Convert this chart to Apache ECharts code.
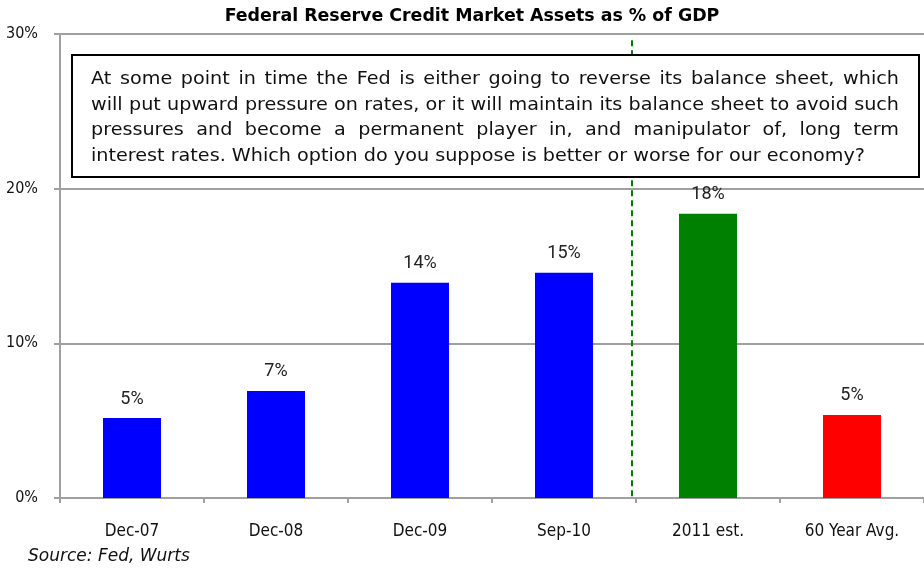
<!DOCTYPE html>
<html>
<head>
<meta charset="utf-8">
<script src="https://cdn.jsdelivr.net/npm/echarts@6/dist/echarts.min.js"></script>
<style>
  html, body { margin: 0; padding: 0; background: #fff; }
  #chart { width: 924px; height: 570px; }
</style>
</head>
<body>
<div id="chart"></div>
<script>
// Fed credit market assets as a share of GDP
const categories = ['Dec-07', 'Dec-08', 'Dec-09', 'Sep-10', '2011 est.', '60 Year Avg.'];
const assetsPctGdp = [5.17, 6.92, 13.92, 14.57, 18.38, 5.37];
const barColors = ['#0000ff', '#0000ff', '#0000ff', '#0000ff', '#008000', '#ff0000'];
const yTicks = [0, 10, 20, 30];
// Actual vs. estimate separator, on a 0..6 period scale
const forecastDivider = 3.97;

const titleText = 'Federal Reserve Credit Market Assets as % of GDP';
const sourceText = 'Source: Fed, Wurts';
const noteLines = [
  'At some point in time the Fed is either going to reverse its balance sheet, which',
  'will put upward pressure on rates, or it will maintain its balance sheet to avoid such',
  'pressures and become a permanent player in, and manipulator of, long term',
  'interest rates. Which option do you suppose is better or worse for our economy?'
];

const AXIS_FONT = '"DejaVu Sans Condensed", "DejaVu Sans", sans-serif';
const TEXT_FONT = '"DejaVu Sans", sans-serif';
const LABEL_FONT = 'Roboto, "Liberation Sans", sans-serif';
const GRID_GRAY = '#a0a0a0';

// Justified paragraph: every line but the last is stretched to the full width,
// glyphs widened slightly so the last (ragged) line reaches lastWidth
function justifiedNote(x0, x1, yFirst, lineH, size, lastWidth) {
  const font = size + 'px ' + TEXT_FONT;
  const ctx = document.createElement('canvas').getContext('2d');
  ctx.font = font;
  const sx = lastWidth / ctx.measureText(noteLines[noteLines.length - 1]).width;
  const out = [];
  noteLines.forEach((line, i) => {
    const y = yFirst + i * lineH;
    const style = { fill: '#111', font: font, textVerticalAlign: 'middle', textAlign: 'left' };
    if (i === noteLines.length - 1) {
      out.push({ type: 'text', x: x0, y: y, scaleX: sx, z: 101, style: Object.assign({ text: line }, style) });
      return;
    }
    const words = line.split(' ');
    const widths = words.map(w => ctx.measureText(w).width * sx);
    const total = widths.reduce((a, b) => a + b, 0);
    const gap = (x1 - x0 - total) / (words.length - 1);
    let x = x0;
    words.forEach((w, k) => {
      out.push({ type: 'text', x: x, y: y, scaleX: sx, z: 101, style: Object.assign({ text: w }, style) });
      x += widths[k] + gap;
    });
  });
  return out;
}

const chart = echarts.init(document.getElementById('chart'), null, { renderer: 'canvas' });

const option = {
  animation: false,
  backgroundColor: '#fff',
  grid: { left: 60, right: -2, top: 34, bottom: 72 },
  xAxis: [
    {
      type: 'category',
      data: categories,
      axisLine: { lineStyle: { color: GRID_GRAY, width: 2 } },
      axisTick: { show: true, length: 5, lineStyle: { color: GRID_GRAY, width: 2 } },
      axisLabel: { fontSize: 17, color: '#111', margin: 25, fontFamily: AXIS_FONT },
      splitLine: { show: false }
    },
    { type: 'value', min: 0, max: 6, show: false }
  ],
  yAxis: {
    type: 'value',
    min: yTicks[0],
    max: yTicks[yTicks.length - 1],
    interval: yTicks[1] - yTicks[0],
    axisLine: { show: true, lineStyle: { color: GRID_GRAY, width: 2 } },
    axisTick: { show: true, length: 6, lineStyle: { color: GRID_GRAY, width: 2 } },
    axisLabel: { formatter: '{value}%', fontSize: 16, color: '#111', margin: 22, fontFamily: AXIS_FONT },
    splitLine: { show: true, lineStyle: { color: GRID_GRAY, width: 2 } }
  },
  series: [
    {
      type: 'bar',
      barWidth: 58,
      data: assetsPctGdp.map((v, i) => ({ value: v, itemStyle: { color: barColors[i] } })),
      label: {
        show: true,
        position: 'top',
        distance: 10,
        formatter: p => Math.round(p.value) + '%',
        fontSize: 18,
        color: '#222',
        fontFamily: LABEL_FONT
      },
      z: 3
    },
    {
      type: 'line',
      xAxisIndex: 1,
      yAxisIndex: 0,
      data: [],
      markLine: {
        silent: true,
        symbol: 'none',
        label: { show: false },
        lineStyle: { color: '#008000', width: 2, type: [6, 4] },
        data: [[{ coord: [forecastDivider, 29.6] }, { coord: [forecastDivider, 0] }]]
      }
    }
  ],
  graphic: [
    {
      type: 'text', x: 472, y: 16, z: 101,
      style: { text: titleText, font: 'bold 17.4px ' + TEXT_FONT, fill: '#000', textAlign: 'center', textVerticalAlign: 'middle' }
    },
    {
      type: 'rect', z: 100,
      shape: { x: 72, y: 55, width: 847, height: 122 },
      style: { fill: '#fff', stroke: '#000', lineWidth: 2 }
    },
    ...justifiedNote(91, 899, 79.5, 25.5, 18, 774),
    {
      type: 'text', x: 28, y: 557, z: 101,
      style: { text: sourceText, font: 'italic 17px ' + TEXT_FONT, fill: '#111', textAlign: 'left', textVerticalAlign: 'middle' }
    }
  ]
};

chart.setOption(option);
</script>
</body>
</html>
